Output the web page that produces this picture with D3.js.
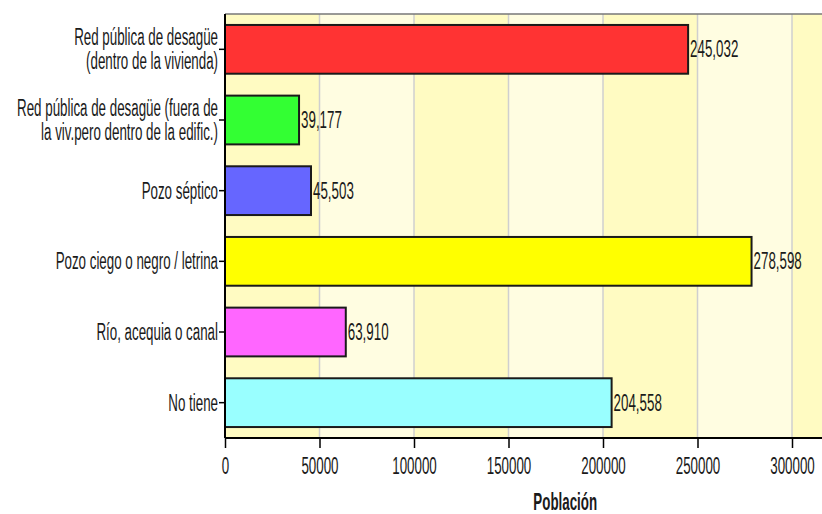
<!DOCTYPE html>
<html>
<head>
<meta charset="utf-8">
<script src="https://cdn.jsdelivr.net/npm/d3@7"></script>
<style>
  body { margin: 0; background: #fff; }
  text { font-family: "Liberation Sans", Arial, sans-serif; fill: #1a1a1a; }
</style>
</head>
<body>
<svg id="chart" width="822" height="514"></svg>
<script>
const categories = [
    "Red pública de desagüe\n(dentro de la vivienda)",
    "Red pública de desagüe (fuera de\nla viv.pero dentro de la edific.)",
    "Pozo séptico",
    "Pozo ciego o negro / letrina",
    "Río, acequia o canal",
    "No tiene"
];
const values = [245032, 39177, 45503, 278598, 63910, 204558];
const barColors = ["#ff3333", "#33ff33", "#6666ff", "#ffff00", "#ff66ff", "#99ffff"];
const xTicks = [0, 50000, 100000, 150000, 200000, 250000, 300000];
const xTitle = "Población";

const svg = d3.select("#chart");
const sx = 0.58; // texto comprimido horizontalmente como en la imagen
const fontSize = 23;

const plotTop = 14, plotBottom = 438, plotLeft = 225;
const x = d3.scaleLinear().domain([0, 360000]).range([plotLeft, plotLeft + 94.5 * 7.2]);
const y = d3.scaleBand().domain(categories).range([plotTop, plotBottom])
    .paddingInner(0.31).paddingOuter(0.155);

// bandas de fondo alternadas
const bandStarts = d3.range(0, 360000, 50000);
svg.append("g").selectAll("rect")
    .data(bandStarts)
    .join("rect")
    .attr("x", d => x(d))
    .attr("y", plotTop)
    .attr("width", d => x(d + 50000) - x(d))
    .attr("height", plotBottom - plotTop)
    .attr("fill", (d, i) => i % 2 === 0 ? "#fffbc2" : "#fffde1");

// líneas de grilla
svg.append("g").selectAll("line")
    .data(bandStarts.slice(1))
    .join("line")
    .attr("x1", d => x(d)).attr("x2", d => x(d))
    .attr("y1", plotTop).attr("y2", plotBottom)
    .attr("stroke", "#cfcfcf")
    .attr("stroke-width", 1.5);

// borde superior
svg.append("line")
    .attr("x1", plotLeft).attr("x2", 822)
    .attr("y1", plotTop).attr("y2", plotTop)
    .attr("stroke", "#777").attr("stroke-width", 1.5);

// barras
svg.append("g").selectAll("rect")
    .data(values)
    .join("rect")
    .attr("x", x(0))
    .attr("y", (d, i) => y(categories[i]))
    .attr("width", d => x(d) - x(0))
    .attr("height", y.bandwidth())
    .attr("fill", (d, i) => barColors[i])
    .attr("stroke", "#1a1a1a")
    .attr("stroke-width", 2);

// etiquetas de valores
const fmt = d3.format(",");
svg.append("g").selectAll("g")
    .data(values)
    .join("g")
    .attr("transform", (d, i) => `translate(${x(d) + 2},${y(categories[i]) + y.bandwidth() / 2}) scale(${sx},1)`)
    .append("text")
    .attr("font-size", fontSize)
    .attr("dy", "0.35em")
    .text(d => fmt(d));

// eje izquierdo
svg.append("line")
    .attr("x1", plotLeft).attr("x2", plotLeft)
    .attr("y1", plotTop).attr("y2", plotBottom)
    .attr("stroke", "#000").attr("stroke-width", 2);

const yLab = svg.append("g").selectAll("g")
    .data(categories)
    .join("g")
    .attr("transform", d => `translate(0,${y(d) + y.bandwidth() / 2})`);

yLab.append("line")
    .attr("x1", plotLeft - 6).attr("x2", plotLeft)
    .attr("stroke", "#000").attr("stroke-width", 1.5);

yLab.each(function(d) {
    const lines = d.split("\n");
    const g = d3.select(this).append("g")
        .attr("transform", `translate(${plotLeft - 7},0) scale(${sx},1)`);
    lines.forEach((ln, k) => {
        g.append("text")
            .attr("font-size", fontSize)
            .attr("text-anchor", "end")
            .attr("y", (k - (lines.length - 1) / 2) * 24)
            .attr("dy", "0.35em")
            .text(ln);
    });
});

// eje inferior
const xAxis = svg.append("g")
    .attr("transform", `translate(0,${plotBottom})`)
    .call(d3.axisBottom(x).tickValues(xTicks).tickSize(10).tickFormat(d3.format("d")));
xAxis.select(".domain").attr("stroke", "#000").attr("stroke-width", 2)
    .attr("d", `M${plotLeft},0H822`);
xAxis.selectAll(".tick line").attr("stroke", "#000").attr("stroke-width", 1.5);
xAxis.selectAll(".tick text")
    .attr("font-size", fontSize)
    .attr("font-family", null)
    .attr("fill", "#1a1a1a")
    .attr("y", 28)
    .attr("dy", "0.35em")
    .attr("transform", `scale(${sx},1)`);

// título del eje
svg.append("g")
    .attr("transform", `translate(${(x.range()[0] + x.range()[1]) / 2},502) scale(${sx},1)`)
    .append("text")
    .attr("font-size", fontSize)
    .attr("font-weight", "bold")
    .attr("text-anchor", "middle")
    .attr("dy", "0.35em")
    .text(xTitle);
</script>
</body>
</html>
